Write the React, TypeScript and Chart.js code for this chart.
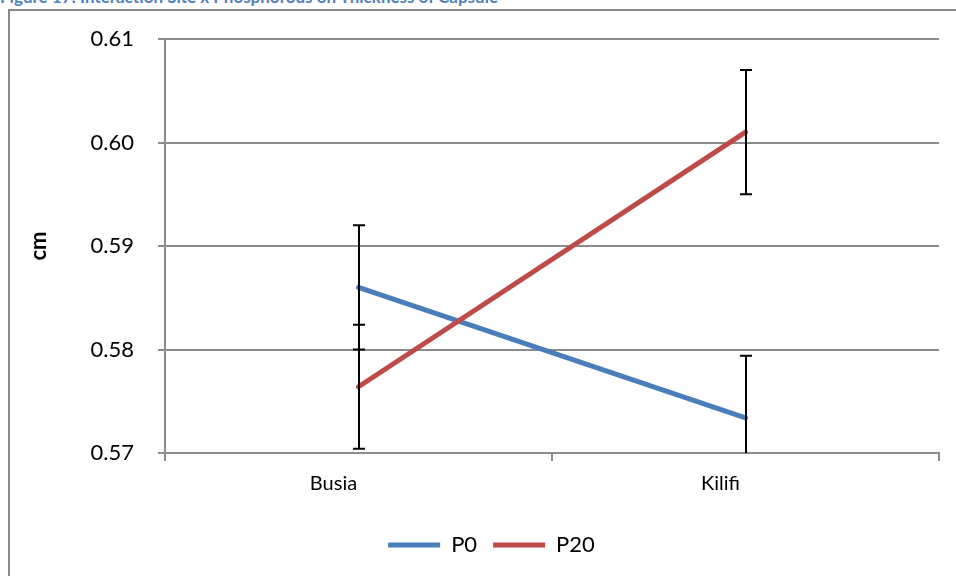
import React, { useEffect, useRef } from 'react';
import { Chart, registerables } from 'chart.js';

Chart.register(...registerables);

const titleText = 'Figure 17: Interaction Site x Phosphorous on Thickness of Capsule';
const categories = ['Busia', 'Kilifi'];
const seriesNames = ['P0', 'P20'];
const p0Values = [0.586, 0.5734];
const p20Values = [0.5764, 0.601];
const p0Errors = [0.006, 0.006];
const p20Errors = [0.006, 0.006];
const yMin = 0.57;
const yMax = 0.61;
const yStep = 0.01;
const yTitle = 'cm';

const FONT = 'Lato';
const GRID = '#8c8c8c';

const errorBarPlugin = {
  id: 'errorBars',
  afterDatasetsDraw(chart: any) {
    const { ctx, chartArea, scales } = chart;
    const x = scales.x;
    const y = scales.y;
    ctx.save();
    ctx.beginPath();
    ctx.rect(chartArea.left, chartArea.top, chartArea.right - chartArea.left, chartArea.bottom - chartArea.top);
    ctx.clip();
    ctx.strokeStyle = '#000';
    ctx.lineWidth = 2;
    chart.data.datasets.forEach((ds: any) => {
      const errs: number[] = ds.errorBars || [];
      ds.data.forEach((v: number, i: number) => {
        const e = errs[i];
        if (e == null) return;
        const px = Math.round(x.getPixelForValue(i));
        const top = y.getPixelForValue(v + e);
        const bot = y.getPixelForValue(v - e);
        ctx.beginPath();
        ctx.moveTo(px, top);
        ctx.lineTo(px, bot);
        ctx.moveTo(px - 6, top);
        ctx.lineTo(px + 6, top);
        ctx.moveTo(px - 6, bot);
        ctx.lineTo(px + 6, bot);
        ctx.stroke();
      });
    });
    ctx.restore();
  },
};

export default function App() {
  const canvasRef = useRef<HTMLCanvasElement | null>(null);

  useEffect(() => {
    if (!canvasRef.current) return;
    const chart = new Chart(canvasRef.current, {
      type: 'line',
      data: {
        labels: categories,
        datasets: [
          {
            label: seriesNames[0],
            data: p0Values,
            borderColor: '#4A7EBB',
            backgroundColor: '#4A7EBB',
            borderWidth: 5,
            borderCapStyle: 'round',
            borderJoinStyle: 'round',
            pointRadius: 0,
            pointHoverRadius: 0,
            order: 1,
            errorBars: p0Errors,
          } as any,
          {
            label: seriesNames[1],
            data: p20Values,
            borderColor: '#BE4B48',
            backgroundColor: '#BE4B48',
            borderWidth: 5,
            borderCapStyle: 'round',
            borderJoinStyle: 'round',
            pointRadius: 0,
            pointHoverRadius: 0,
            order: 0,
            errorBars: p20Errors,
          } as any,
        ],
      },
      options: {
        responsive: false,
        animation: false,
        layout: { padding: { left: 44, right: 17, top: 39, bottom: 10 } },
        plugins: {
          legend: {
            position: 'bottom',
            labels: {
              usePointStyle: true,
              pointStyle: 'line',
              pointStyleWidth: 52,
              font: { family: FONT, size: 22 },
              color: '#000',
              padding: 16,
              sort: (a: any, b: any) => a.datasetIndex - b.datasetIndex,
            },
          },
          tooltip: { enabled: false },
        },
        scales: {
          x: {
            type: 'category',
            offset: true,
            grid: {
              display: true,
              drawOnChartArea: false,
              drawTicks: true,
              tickLength: 8,
              offset: true,
              color: GRID,
              lineWidth: 2,
            },
            border: { display: true, color: GRID, width: 2 },
            ticks: { font: { family: FONT, size: 20 }, color: '#000', padding: 11, labelOffset: -25 },
            afterFit: (scale: any) => {
              scale.height = 65;
            },
          },
          y: {
            min: yMin,
            max: yMax,
            ticks: {
              stepSize: yStep,
              font: { family: FONT, size: 22 },
              color: '#000',
              padding: 24,
              callback: (v: any) => Number(v).toFixed(2),
            },
            grid: { color: GRID, lineWidth: 2, tickLength: 7, drawTicks: true },
            border: { display: true, color: GRID, width: 2 },
            title: {
              display: true,
              text: yTitle,
              font: { family: FONT, size: 22, weight: 'bold' },
              color: '#000',
              padding: { top: -18, bottom: 0 },
            },
            afterFit: (scale: any) => {
              scale.width = 121;
            },
          },
        },
      },
      plugins: [errorBarPlugin],
    });
    return () => chart.destroy();
  }, []);

  return (
    <div style={{ position: 'fixed', left: 0, top: 0, width: 956, height: 576, overflow: 'hidden', background: '#fff' }}>
      <div
        style={{
          position: 'absolute',
          left: 0,
          top: -13,
          whiteSpace: 'nowrap',
          fontFamily: FONT,
          fontWeight: 'bold',
          fontSize: 17,
          lineHeight: '20px',
          color: '#4F81BD',
        }}
      >
        {titleText}
      </div>
      <div
        style={{
          position: 'absolute',
          left: 8,
          top: 9,
          width: 2000,
          height: 2000,
          border: '2px solid #8a8a8a',
        }}
      />
      <canvas ref={canvasRef} width={956} height={576} style={{ position: 'absolute', left: 0, top: 0 }} />
    </div>
  );
}
